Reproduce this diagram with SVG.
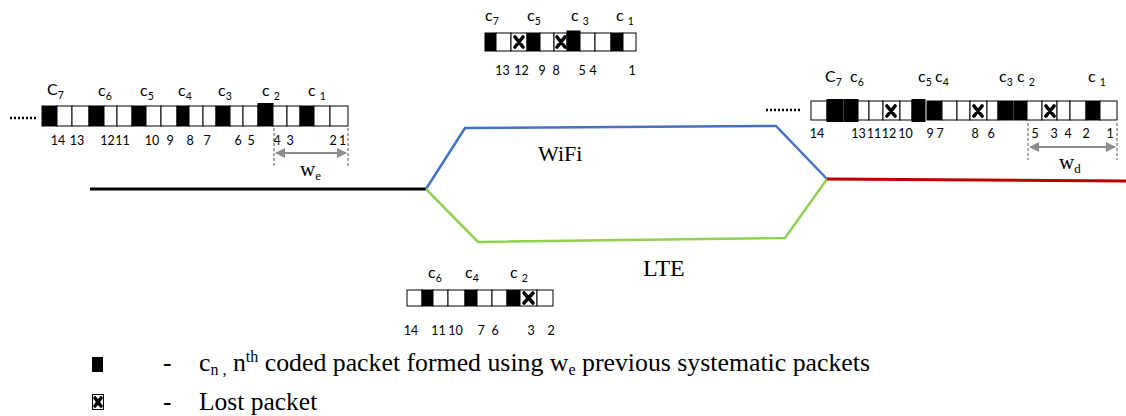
<svg xmlns="http://www.w3.org/2000/svg" width="1126" height="416" viewBox="0 0 1126 416">
<style>
.w{fill:#fff;stroke:#000;stroke-width:1}
.b{fill:#000;stroke:#000;stroke-width:1}
.x{stroke:#000;stroke-width:3.6;stroke-linecap:round}
.lab{font-family:Lato,"Liberation Sans",sans-serif;font-size:16px;fill:#000}
.sub{font-size:10.5px}
.num{font-family:Lato,"Liberation Sans",sans-serif;font-size:12.5px;fill:#000;text-anchor:middle}
.ser{font-family:"Liberation Serif","Times New Roman",serif;fill:#000}
.dash{stroke:#555;stroke-width:1;stroke-dasharray:3,2}
.arr{stroke:#8c8c8c;stroke-width:2;fill:none}
.dots{stroke:#000;stroke-width:2.5;stroke-dasharray:2,2}
</style>
<defs>
<marker id="ah" viewBox="0 0 10 10" refX="9" refY="5" markerWidth="5" markerHeight="5" orient="auto-start-reverse"><path d="M0,0 L10,5 L0,10 z" fill="#8c8c8c"/></marker>
</defs>

<g id="connectors">
<polyline points="90,189 426,189" fill="none" stroke="#000" stroke-width="3"/>
<polyline points="426,189 465,128 776,126 827,179" fill="none" stroke="#4472C4" stroke-width="2.5"/>
<polyline points="426,189 478,242 785,238 827,179" fill="none" stroke="#92D050" stroke-width="2.5"/>
<polyline points="827,179 1126,181" fill="none" stroke="#C00000" stroke-width="3"/>
</g>

<g id="label-wifi"><text class="ser" x="538" y="161" font-size="22">WiFi</text></g>
<g id="label-lte"><text class="ser" x="643" y="276" font-size="24">LTE</text></g>

<g id="encoder-buffer">
<line class="dots" x1="10" y1="118" x2="36" y2="118"/>
<rect class="b" x="42" y="106" width="15" height="20"/>
<rect class="w" x="57" y="106" width="15" height="20"/>
<rect class="w" x="72" y="106" width="17" height="20"/>
<rect class="b" x="89" y="106" width="15" height="20"/>
<rect class="w" x="104" y="106" width="13" height="20"/>
<rect class="w" x="117" y="106" width="15" height="20"/>
<rect class="b" x="132" y="106" width="14" height="20"/>
<rect class="w" x="146" y="106" width="15" height="20"/>
<rect class="w" x="161" y="106" width="16" height="20"/>
<rect class="b" x="177" y="106" width="12" height="20"/>
<rect class="w" x="189" y="106" width="14" height="20"/>
<rect class="w" x="203" y="106" width="13" height="20"/>
<rect class="b" x="216" y="106" width="14" height="20"/>
<rect class="w" x="230" y="106" width="13" height="20"/>
<rect class="w" x="243" y="106" width="15" height="20"/>
<rect class="b" x="258" y="103.5" width="15" height="22.5"/>
<rect class="w" x="273" y="106" width="14" height="20"/>
<rect class="w" x="287" y="106" width="13" height="20"/>
<rect class="b" x="300" y="106" width="14" height="20"/>
<rect class="w" x="314" y="106" width="16" height="20"/>
<rect class="w" x="330" y="106" width="18" height="20"/>
<text class="lab" x="47" y="95" font-size="18">C<tspan class="sub" dy="4">7</tspan></text>
<text class="lab" x="98" y="96">c<tspan class="sub" dy="4">6</tspan></text>
<text class="lab" x="140" y="96">c<tspan class="sub" dy="4">5</tspan></text>
<text class="lab" x="178" y="96">c<tspan class="sub" dy="4">4</tspan></text>
<text class="lab" x="218" y="96">c<tspan class="sub" dy="4">3</tspan></text>
<text class="lab" x="262" y="96">c <tspan class="sub" dy="4">2</tspan></text>
<text class="lab" x="308" y="96">c <tspan class="sub" dy="4">1</tspan></text>
<text class="num" x="58" y="145">14</text>
<text class="num" x="77" y="145">13</text>
<text class="num" x="107.5" y="145">12</text>
<text class="num" x="122.5" y="145">11</text>
<text class="num" x="152" y="145">10</text>
<text class="num" x="170" y="145">9</text>
<text class="num" x="190" y="145">8</text>
<text class="num" x="207" y="145">7</text>
<text class="num" x="238" y="145">6</text>
<text class="num" x="251" y="145">5</text>
<text class="num" x="277" y="145">4</text>
<text class="num" x="290" y="145">3</text>
<text class="num" x="333" y="145">2</text>
<text class="num" x="342.5" y="145">1</text>
<line class="dash" x1="274" y1="128" x2="274" y2="167"/>
<line class="dash" x1="348" y1="128" x2="348" y2="167"/>
<line class="arr" x1="276" y1="153" x2="346" y2="153" marker-start="url(#ah)" marker-end="url(#ah)"/>
<text class="ser" x="300" y="176" font-size="21">w<tspan font-size="13" dy="4">e</tspan></text>
</g>

<g id="wifi-buffer">
<rect class="b" x="485" y="33" width="11" height="18"/>
<rect class="w" x="496" y="33" width="15" height="18"/>
<rect class="w" x="511" y="33" width="16" height="18"/>
<rect class="b" x="527" y="33" width="13" height="18"/>
<rect class="w" x="540" y="33" width="14" height="18"/>
<rect class="w" x="554" y="33" width="13" height="18"/>
<rect class="b" x="567" y="31" width="13" height="20"/>
<rect class="w" x="580" y="33" width="15" height="18"/>
<rect class="w" x="595" y="33" width="16" height="18"/>
<rect class="b" x="611" y="33" width="12" height="18"/>
<rect class="w" x="623" y="33" width="13" height="18"/>
<path class="x" d="M515,37 L523,47 M523,37 L515,47 M557,37 L565,47 M565,37 L557,47"/>
<text class="lab" x="485" y="21">c<tspan class="sub" dy="4">7</tspan></text>
<text class="lab" x="527" y="21">c<tspan class="sub" dy="4">5</tspan></text>
<text class="lab" x="571" y="21">c <tspan class="sub" dy="4">3</tspan></text>
<text class="lab" x="616" y="21">c <tspan class="sub" dy="4">1</tspan></text>
<text class="num" x="502.5" y="75">13</text>
<text class="num" x="521.5" y="75">12</text>
<text class="num" x="542" y="75">9</text>
<text class="num" x="556" y="75">8</text>
<text class="num" x="582" y="75">5</text>
<text class="num" x="593" y="75">4</text>
<text class="num" x="632" y="75">1</text>
</g>

<g id="decoder-buffer">
<line class="dots" x1="766" y1="110" x2="802" y2="110"/>
<rect class="w" x="811" y="101" width="16" height="19"/>
<rect class="b" x="827" y="99.5" width="16" height="22"/>
<rect class="b" x="844" y="99.5" width="14" height="22"/>
<rect class="w" x="858" y="101" width="11" height="19"/>
<rect class="w" x="869" y="101" width="14" height="19"/>
<rect class="w" x="883" y="101" width="17" height="19"/>
<rect class="w" x="900" y="101" width="12" height="19"/>
<rect class="b" x="912" y="99.5" width="13" height="22"/>
<rect class="b" x="927" y="101" width="15" height="19"/>
<rect class="w" x="942" y="101" width="15" height="19"/>
<rect class="w" x="957" y="101" width="13" height="19"/>
<rect class="w" x="970" y="101" width="17" height="19"/>
<rect class="w" x="987" y="101" width="11" height="19"/>
<rect class="b" x="998" y="101" width="15" height="19"/>
<rect class="b" x="1014" y="101" width="13" height="19"/>
<rect class="w" x="1027" y="101" width="15" height="19"/>
<rect class="w" x="1042" y="101" width="15" height="19"/>
<rect class="w" x="1057" y="101" width="13" height="19"/>
<rect class="w" x="1070" y="101" width="16" height="19"/>
<rect class="b" x="1086" y="101" width="14" height="19"/>
<rect class="w" x="1100" y="101" width="17" height="19"/>
<path class="x" d="M887,106 L895,116 M895,106 L887,116 M974,106 L982,116 M982,106 L974,116 M1046,106 L1054,116 M1054,106 L1046,116"/>
<text class="lab" x="825" y="82" font-size="18">C<tspan class="sub" dy="4">7</tspan></text>
<text class="lab" x="850" y="82">c<tspan class="sub" dy="4">6</tspan></text>
<text class="lab" x="918" y="82">c<tspan class="sub" dy="4">5</tspan></text>
<text class="lab" x="935" y="82">c<tspan class="sub" dy="4">4</tspan></text>
<text class="lab" x="999" y="82">c<tspan class="sub" dy="4">3</tspan></text>
<text class="lab" x="1017" y="82">c <tspan class="sub" dy="4">2</tspan></text>
<text class="lab" x="1088" y="82">c <tspan class="sub" dy="4">1</tspan></text>
<text class="num" x="817" y="138">14</text>
<text class="num" x="858.5" y="138">13</text>
<text class="num" x="874" y="138">11</text>
<text class="num" x="889" y="138">12</text>
<text class="num" x="905.5" y="138">10</text>
<text class="num" x="930" y="138">9</text>
<text class="num" x="940" y="138">7</text>
<text class="num" x="975" y="138">8</text>
<text class="num" x="991" y="138">6</text>
<text class="num" x="1035" y="138">5</text>
<text class="num" x="1054" y="138">3</text>
<text class="num" x="1068" y="138">4</text>
<text class="num" x="1086" y="138">2</text>
<text class="num" x="1110" y="138">1</text>
<line class="dash" x1="1028" y1="123" x2="1028" y2="160"/>
<line class="dash" x1="1117" y1="123" x2="1117" y2="160"/>
<line class="arr" x1="1030" y1="147" x2="1115" y2="147" marker-start="url(#ah)" marker-end="url(#ah)"/>
<text class="ser" x="1059" y="169" font-size="21">w<tspan font-size="13" dy="4">d</tspan></text>
</g>

<g id="lte-buffer">
<rect class="w" x="407" y="290" width="15" height="16"/>
<rect class="b" x="422" y="290" width="11" height="16"/>
<rect class="w" x="433" y="290" width="15" height="16"/>
<rect class="w" x="448" y="290" width="17" height="16"/>
<rect class="b" x="465" y="290" width="12" height="16"/>
<rect class="w" x="477" y="290" width="15" height="16"/>
<rect class="w" x="492" y="290" width="15" height="16"/>
<rect class="b" x="507" y="290" width="13" height="16"/>
<rect class="w" x="520" y="290" width="17" height="16"/>
<rect class="w" x="537" y="290" width="16" height="16"/>
<path class="x" d="M524,293 L533,303 M533,293 L524,303"/>
<text class="lab" x="428" y="278">c<tspan class="sub" dy="4">6</tspan></text>
<text class="lab" x="465" y="278">c<tspan class="sub" dy="4">4</tspan></text>
<text class="lab" x="510" y="278">c <tspan class="sub" dy="4">2</tspan></text>
<text class="num" x="411" y="335">14</text>
<text class="num" x="438.5" y="335">11</text>
<text class="num" x="455.5" y="335">10</text>
<text class="num" x="481" y="335">7</text>
<text class="num" x="495" y="335">6</text>
<text class="num" x="531" y="335">3</text>
<text class="num" x="551" y="335">2</text>
</g>

<g id="legend">
<rect x="92" y="357" width="11" height="15" fill="#000"/>
<text class="ser" x="163" y="371" font-size="25.5">-</text>
<text class="ser" x="199" y="371" font-size="25.8">c<tspan font-size="16" dy="4">n ,</tspan><tspan dy="-4"> n</tspan><tspan font-size="16" dy="-9">th</tspan><tspan dy="9"> coded packet formed using w</tspan><tspan font-size="16" dy="4">e</tspan><tspan dy="-4"> previous systematic packets</tspan></text>
<rect x="92.5" y="394.5" width="11" height="15" fill="#fff" stroke="#000" stroke-width="1"/>
<path class="x" d="M95,398 L101,406 M101,398 L95,406" stroke-width="3"/>
<text class="ser" x="163" y="410" font-size="25.5">-</text>
<text class="ser" x="199" y="410" font-size="25.5">Lost packet</text>
</g>
</svg>
